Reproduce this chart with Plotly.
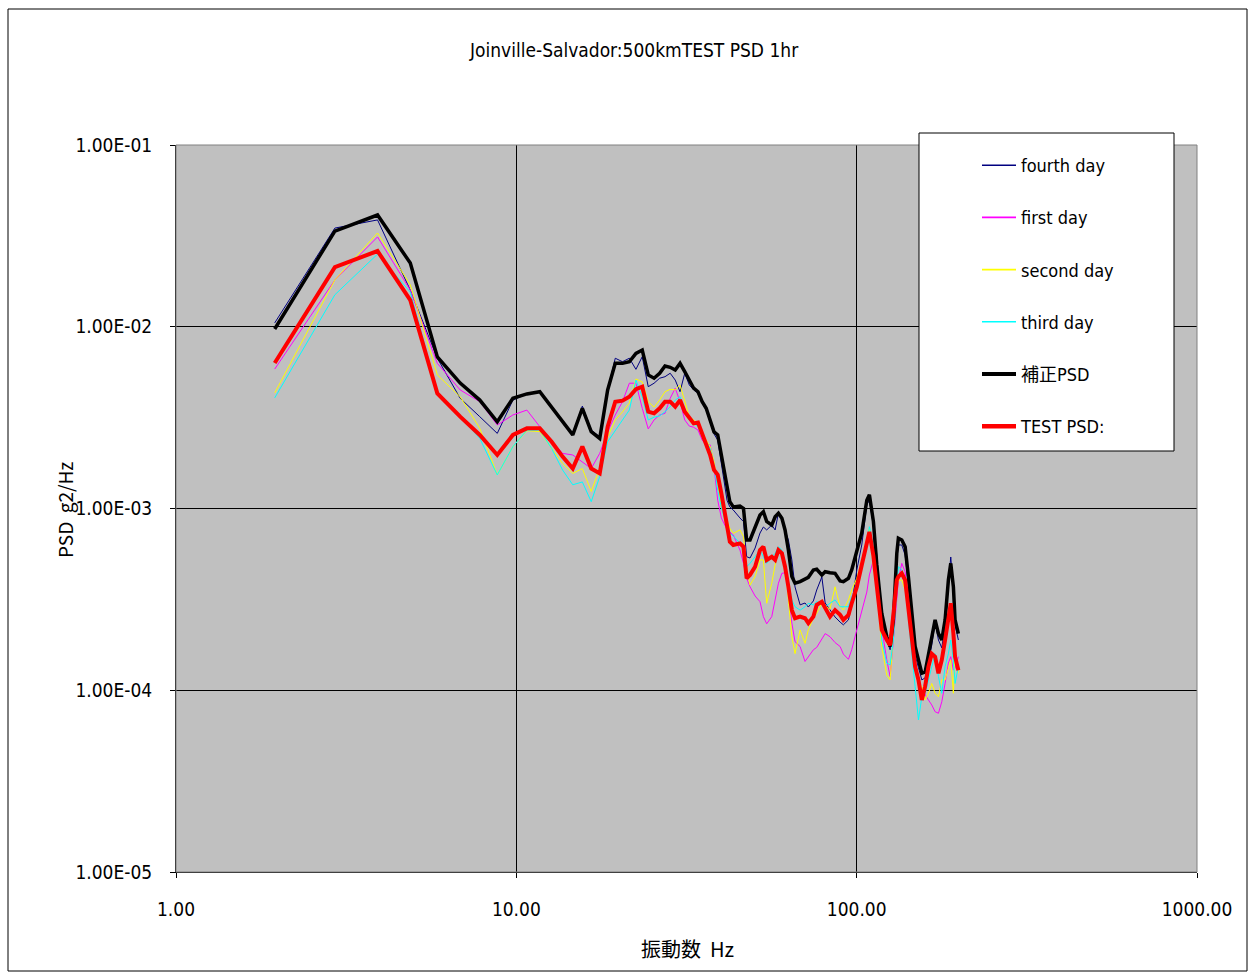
import plotly.graph_objects as go

# Frequency grid (Hz)
FREQ_HZ = [1.95, 2.93, 3.91, 4.88, 5.86, 6.84, 7.81, 8.79, 9.77, 10.74, 11.72, 12.70, 13.67, 14.65,
           15.63, 16.60, 17.58, 18.55, 19.53, 20.51, 21.48, 22.46, 23.44, 24.41, 25.39, 26.37, 27.34,
           28.32, 29.30, 30.27, 31.25, 32.23, 33.20, 34.18, 35.16, 36.13, 37.11, 38.09, 39.06, 40.04,
           41.6, 42.4, 43.4, 45.4, 46.5, 47.5, 48.6, 50.3, 52.0, 53.2, 54.4, 56.3, 57.6, 58.9, 60.3,
           61.6, 63.0, 64.5, 65.9, 68.2, 70.5, 72.1, 74.6, 76.3, 79.0, 80.8, 83.5, 86.4, 89.4, 91.4,
           94.6, 96.7, 100.1, 103.5, 107.1, 109.0, 112.0, 114.6,
           118.5, 122.6, 125.4, 128.2, 131.2, 132.6, 135.7, 138.8, 141.9, 145.2, 148.5, 151.9, 155.4,
           158.9, 162.5, 166.2, 170.0, 173.9, 177.9, 181.9, 186.0, 189.0, 192.4, 194.6, 199.0]

FOURTH_DAY = [1.05e-2, 3.49e-2, 3.87e-2, 1.59e-2, 6.71e-3, 4.04e-3, 3.20e-3, 2.59e-3, 3.95e-3, 4.27e-3,
              4.39e-3, 3.59e-3, 2.98e-3, 2.59e-3, 3.66e-3, 2.70e-3, 2.48e-3, 4.49e-3, 6.71e-3, 6.42e-3,
              6.71e-3, 5.83e-3, 6.84e-3, 4.68e-3, 4.89e-3, 5.21e-3, 5.31e-3, 5.55e-3, 5.09e-3, 4.39e-3,
              5.55e-3, 4.78e-3, 4.49e-3, 4.30e-3, 3.81e-3, 3.48e-3, 2.99e-3, 2.57e-3, 2.38e-3, 1.80e-3,
              1.11e-3, 1.02e-3, 9.81e-4, 8.87e-4, 8.47e-4, 5.43e-4, 5.34e-4, 6.06e-4, 7.33e-4, 7.91e-4,
              7.62e-4, 8.11e-4, 7.62e-4, 9.45e-4, 8.99e-4, 7.62e-4, 6.71e-4, 5.21e-4, 3.70e-4, 2.95e-4,
              3.02e-4, 2.87e-4, 3.10e-4, 3.56e-4, 4.20e-4, 3.02e-4, 2.76e-4, 2.53e-4, 2.37e-4, 2.29e-4,
              2.44e-4, 2.95e-4, 4.59e-4, 6.30e-4, 1.05e-3, 1.11e-3, 8.11e-4, 5.55e-4,
              2.50e-4, 1.89e-4, 1.67e-4, 2.29e-4, 5.21e-4, 6.30e-4, 6.30e-4, 5.55e-4, 3.79e-4, 2.44e-4,
              1.56e-4, 1.33e-4, 1.14e-4, 1.17e-4, 1.47e-4, 1.77e-4, 2.37e-4, 1.89e-4, 1.71e-4, 2.29e-4,
              3.79e-4, 5.41e-4, 3.56e-4, 2.29e-4, 1.89e-4]

FIRST_DAY = [5.85e-3, 1.81e-2, 3.12e-2, 1.59e-2, 6.29e-3, 4.49e-3, 3.87e-3, 2.88e-3, 3.27e-3, 3.48e-3,
             2.82e-3, 2.38e-3, 2.01e-3, 1.97e-3, 1.81e-3, 1.66e-3, 2.01e-3, 2.64e-3, 3.27e-3, 3.87e-3,
             4.89e-3, 4.89e-3, 3.56e-3, 2.74e-3, 3.07e-3, 3.27e-3, 3.34e-3, 4.04e-3, 4.59e-3, 3.87e-3,
             3.07e-3, 2.84e-3, 2.80e-3, 2.70e-3, 2.38e-3, 2.24e-3, 2.24e-3, 1.70e-3, 1.11e-3, 8.87e-4,
             7.65e-4, 7.45e-4, 7.15e-4, 5.91e-4, 4.99e-4, 4.13e-4, 3.71e-4, 3.30e-4, 3.07e-4, 2.54e-4,
             2.32e-4, 2.54e-4, 3.21e-4, 3.88e-4, 4.40e-4, 4.43e-4, 3.56e-4, 2.34e-4, 1.85e-4, 1.74e-4,
             1.44e-4, 1.53e-4, 1.67e-4, 1.72e-4, 1.93e-4, 2.05e-4, 1.97e-4, 1.83e-4, 1.74e-4, 1.58e-4,
             1.48e-4, 1.67e-4, 2.15e-4, 2.76e-4, 3.47e-4, 4.31e-4, 5.21e-4, 3.56e-4,
             2.19e-4, 1.47e-4, 1.19e-4, 1.89e-4, 3.14e-4, 4.04e-4, 4.99e-4, 4.49e-4, 3.01e-4, 1.89e-4,
             1.32e-4, 1.09e-4, 1.01e-4, 9.42e-5, 8.84e-5, 8.30e-5, 7.62e-5, 7.47e-5, 8.65e-5, 1.09e-4,
             1.41e-4, 1.53e-4, 1.29e-4, 1.32e-4, 1.53e-4]

SECOND_DAY = [4.32e-3, 1.81e-2, 3.28e-2, 1.70e-2, 5.43e-3, 4.12e-3, 2.76e-3, 1.53e-3, 2.19e-3, 2.68e-3,
              2.65e-3, 2.14e-3, 1.77e-3, 1.56e-3, 1.66e-3, 1.24e-3, 1.67e-3, 2.47e-3, 3.07e-3, 3.40e-3,
              3.81e-3, 5.16e-3, 4.97e-3, 3.87e-3, 3.61e-3, 3.95e-3, 4.39e-3, 4.53e-3, 4.49e-3, 4.78e-3,
              3.87e-3, 3.20e-3, 3.07e-3, 2.94e-3, 2.59e-3, 2.38e-3, 2.19e-3, 1.81e-3, 1.38e-3, 1.02e-3,
              8.64e-4, 7.78e-4, 7.30e-4, 7.62e-4, 7.00e-4, 4.78e-4, 3.79e-4, 4.22e-4, 5.21e-4, 5.21e-4,
              3.01e-4, 3.88e-4, 4.89e-4, 5.91e-4, 5.43e-4, 5.10e-4, 3.14e-4, 1.97e-4, 1.59e-4, 2.15e-4,
              1.81e-4, 2.15e-4, 2.49e-4, 2.65e-4, 3.01e-4, 2.91e-4, 2.79e-4, 3.71e-4, 2.88e-4, 2.76e-4,
              3.14e-4, 3.56e-4, 4.13e-4, 5.21e-4, 6.71e-4, 7.78e-4, 4.71e-4, 3.56e-4,
              1.74e-4, 1.21e-4, 1.14e-4, 2.15e-4, 3.71e-4, 4.04e-4, 4.04e-4, 3.56e-4, 2.88e-4, 2.05e-4,
              1.35e-4, 1.09e-4, 1.05e-4, 8.84e-5, 9.62e-5, 1.09e-4, 9.62e-5, 9.21e-5, 1.14e-4, 1.14e-4,
              1.35e-4, 1.47e-4, 9.62e-5, 1.67e-4, 1.24e-4]

THIRD_DAY = [4.06e-3, 1.50e-2, 2.51e-2, 1.55e-2, 4.39e-3, 3.20e-3, 2.43e-3, 1.53e-3, 2.19e-3, 2.70e-3,
             2.70e-3, 2.14e-3, 1.63e-3, 1.35e-3, 1.40e-3, 1.09e-3, 1.50e-3, 2.33e-3, 2.70e-3, 3.07e-3,
             3.48e-3, 5.09e-3, 4.12e-3, 3.07e-3, 3.18e-3, 3.23e-3, 3.41e-3, 3.63e-3, 3.95e-3, 4.12e-3,
             3.34e-3, 3.07e-3, 2.94e-3, 2.82e-3, 2.48e-3, 2.33e-3, 2.14e-3, 1.73e-3, 1.26e-3, 1.01e-3,
             7.94e-4, 7.30e-4, 7.06e-4, 6.43e-4, 6.16e-4, 4.78e-4, 4.99e-4, 5.43e-4, 5.91e-4, 5.43e-4,
             4.99e-4, 5.43e-4, 5.67e-4, 6.16e-4, 5.91e-4, 4.99e-4, 4.04e-4, 3.14e-4, 2.88e-4, 2.76e-4,
             2.88e-4, 3.01e-4, 2.95e-4, 3.07e-4, 3.01e-4, 2.88e-4, 3.01e-4, 3.14e-4, 2.88e-4, 2.88e-4,
             2.88e-4, 3.27e-4, 3.71e-4, 4.78e-4, 6.43e-4, 7.94e-4, 6.30e-4, 4.31e-4,
             1.89e-4, 1.41e-4, 1.38e-4, 1.89e-4, 3.88e-4, 4.78e-4, 4.59e-4, 4.04e-4, 2.44e-4, 1.53e-4,
             1.05e-4, 6.86e-5, 9.21e-5, 9.62e-5, 1.14e-4, 1.35e-4, 1.59e-4, 1.19e-4, 9.62e-5, 1.35e-4,
             1.59e-4, 1.89e-4, 1.47e-4, 1.09e-4, 1.35e-4]

CORRECTED_PSD = [9.72e-3, 3.36e-2, 4.12e-2, 2.24e-2, 6.82e-3, 4.90e-3, 3.95e-3, 3.00e-3, 4.04e-3, 4.27e-3,
                 4.39e-3, 3.59e-3, 2.98e-3, 2.54e-3, 3.56e-3, 2.65e-3, 2.43e-3, 4.49e-3, 6.29e-3, 6.29e-3,
                 6.42e-3, 7.14e-3, 7.45e-3, 5.43e-3, 5.21e-3, 5.55e-3, 6.08e-3, 5.98e-3, 5.78e-3, 6.29e-3,
                 5.66e-3, 5.09e-3, 4.59e-3, 4.39e-3, 3.87e-3, 3.56e-3, 3.07e-3, 2.64e-3, 2.54e-3, 1.97e-3,
                 1.26e-3, 1.09e-3, 1.02e-3, 1.03e-3, 1.00e-3, 6.71e-4, 6.71e-4, 7.94e-4, 9.21e-4, 9.60e-4,
                 8.50e-4, 8.11e-4, 9.01e-4, 9.41e-4, 8.83e-4, 7.62e-4, 5.91e-4, 4.22e-4, 3.88e-4, 3.96e-4,
                 4.08e-4, 4.18e-4, 4.59e-4, 4.63e-4, 4.31e-4, 4.49e-4, 4.43e-4, 4.40e-4, 3.99e-4, 3.96e-4,
                 4.13e-4, 4.59e-4, 5.84e-4, 7.33e-4, 1.11e-3, 1.19e-3, 8.47e-4, 4.89e-4,
                 2.65e-4, 1.97e-4, 1.74e-4, 2.44e-4, 5.67e-4, 6.86e-4, 6.71e-4, 6.16e-4, 4.22e-4, 2.65e-4,
                 1.74e-4, 1.47e-4, 1.24e-4, 1.26e-4, 1.59e-4, 1.89e-4, 2.44e-4, 2.05e-4, 1.89e-4, 2.44e-4,
                 4.04e-4, 4.99e-4, 3.71e-4, 2.44e-4, 2.05e-4]

TEST_PSD = [6.32e-3, 2.13e-2, 2.61e-2, 1.40e-2, 4.30e-3, 3.20e-3, 2.54e-3, 1.97e-3, 2.54e-3, 2.76e-3,
            2.76e-3, 2.33e-3, 1.93e-3, 1.66e-3, 2.19e-3, 1.66e-3, 1.56e-3, 2.82e-3, 3.87e-3, 3.92e-3,
            4.12e-3, 4.53e-3, 4.68e-3, 3.41e-3, 3.34e-3, 3.56e-3, 3.87e-3, 3.87e-3, 3.63e-3, 3.95e-3,
            3.41e-3, 3.14e-3, 2.94e-3, 2.97e-3, 2.59e-3, 2.32e-3, 1.97e-3, 1.63e-3, 1.53e-3, 1.21e-3,
            8.22e-4, 6.57e-4, 6.30e-4, 6.43e-4, 6.16e-4, 4.13e-4, 4.31e-4, 4.78e-4, 5.91e-4, 6.16e-4,
            5.21e-4, 5.43e-4, 5.21e-4, 5.91e-4, 5.67e-4, 4.78e-4, 3.71e-4, 2.76e-4, 2.49e-4, 2.54e-4,
            2.49e-4, 2.34e-4, 2.54e-4, 2.95e-4, 3.07e-4, 2.82e-4, 2.54e-4, 2.76e-4, 2.60e-4, 2.44e-4,
            2.60e-4, 3.01e-4, 3.70e-4, 4.89e-4, 6.43e-4, 7.43e-4, 5.48e-4, 3.56e-4,
            2.15e-4, 1.89e-4, 1.77e-4, 2.60e-4, 4.04e-4, 4.22e-4, 4.40e-4, 4.04e-4, 2.88e-4, 1.89e-4,
            1.35e-4, 1.14e-4, 8.84e-5, 1.05e-4, 1.35e-4, 1.59e-4, 1.53e-4, 1.24e-4, 1.47e-4, 1.89e-4,
            2.54e-4, 3.01e-4, 2.05e-4, 1.53e-4, 1.29e-4]

SERIES_NAMES = ["fourth day", "first day", "second day", "third day", "補正PSD", "TEST PSD:"]
X_TICKS = [1, 10, 100, 1000]
X_TICK_TEXT = ["1.00", "10.00", "100.00", "1000.00"]
Y_TICKS = [1e-5, 1e-4, 1e-3, 1e-2, 1e-1]
Y_TICK_TEXT = ["1.00E-05", "1.00E-04", "1.00E-03", "1.00E-02", "1.00E-01"]

FONT = "Liberation Sans Narrow, Arial Narrow, DejaVu Sans Condensed, Noto Sans CJK JP, sans-serif"

series = [
    (SERIES_NAMES[0], FOURTH_DAY, "#000080", 1, 1.6),
    (SERIES_NAMES[1], FIRST_DAY, "#FF00FF", 1, 1.6),
    (SERIES_NAMES[2], SECOND_DAY, "#FFFF00", 1, 1.6),
    (SERIES_NAMES[3], THIRD_DAY, "#00FFFF", 1, 1.6),
    (SERIES_NAMES[4], CORRECTED_PSD, "#000000", 3.5, 4),
    (SERIES_NAMES[5], TEST_PSD, "#FF0000", 4, 4.5),
]

fig = go.Figure()
for name, vals, color, w, lw in series:
    fig.add_trace(go.Scatter(x=FREQ_HZ, y=vals, mode="lines", name=name, legendgroup=name,
                             showlegend=False, line=dict(color=color, width=w)))
# legend entries (same series, slightly bolder sample lines like the original legend)
for name, vals, color, w, lw in series:
    fig.add_trace(go.Scatter(x=[None], y=[None], mode="lines", name=name, legendgroup=name,
                             showlegend=True, line=dict(color=color, width=lw), hoverinfo="skip"))

L, R, T, B = 176, 53, 145, 101
W, H = 1250, 973
PW, PH = W - L - R, H - T - B


def px(x):
    return (x - L) / PW


def py(y):
    return (H - B - y) / PH


fig.update_layout(
    width=W, height=H,
    margin=dict(l=L, r=R, t=T, b=B),
    paper_bgcolor="white",
    plot_bgcolor="#C0C0C0",
    font=dict(family=FONT, color="black", size=18),
    showlegend=True,
    legend=dict(x=px(977), y=py(147), xanchor="left", yanchor="top",
                bgcolor="rgba(0,0,0,0)", borderwidth=0,
                font=dict(family=FONT, size=18, color="black"),
                tracegroupgap=25.8, itemwidth=34),
    xaxis=dict(type="log", range=[0, 3], tickvals=X_TICKS, ticktext=X_TICK_TEXT,
               showgrid=True, gridcolor="#000000", gridwidth=1, zeroline=False,
               showline=True, linecolor="#000000", linewidth=1,
               ticks="outside", ticklen=5, tickcolor="#000000",
               tickfont=dict(family=FONT, size=19), ticklabelstandoff=15),
    yaxis=dict(type="log", range=[-5, -1], tickvals=Y_TICKS, ticktext=Y_TICK_TEXT,
               showgrid=True, gridcolor="#000000", gridwidth=1, zeroline=False,
               showline=True, linecolor="#000000", linewidth=1,
               ticks="outside", ticklen=5, tickcolor="#000000",
               tickfont=dict(family=FONT, size=19), ticklabelstandoff=14),
    shapes=[
        dict(type="rect", xref="paper", yref="paper", x0=0, x1=1, y0=0, y1=1,
             line=dict(color="#808080", width=1), fillcolor="rgba(0,0,0,0)", layer="above"),
        dict(type="rect", xref="paper", yref="paper", x0=px(8), x1=px(1247), y0=py(971), y1=py(9),
             line=dict(color="#000000", width=1), fillcolor="rgba(0,0,0,0)"),
        dict(type="rect", xref="paper", yref="paper", x0=px(919), x1=px(1174), y0=py(451), y1=py(133),
             line=dict(color="#000000", width=1), fillcolor="white", layer="above"),
    ],
    annotations=[
        dict(text="Joinville-Salvador:500kmTEST PSD 1hr", xref="paper", yref="paper",
             x=px(634), y=py(50), xanchor="center", yanchor="middle", showarrow=False,
             font=dict(family=FONT, size=19)),
        dict(text="振動数  Hz", xref="paper", yref="paper", x=px(687), y=py(948),
             xanchor="center", yanchor="middle", showarrow=False,
             font=dict(family="Noto Sans CJK JP, sans-serif", size=20)),
        dict(text="PSD  g2/Hz", xref="paper", yref="paper", x=px(65), y=py(510), textangle=-90,
             xanchor="center", yanchor="middle", showarrow=False,
             font=dict(family="Noto Sans CJK JP, sans-serif", size=19)),
    ],
)

fig.write_html("out.html")
